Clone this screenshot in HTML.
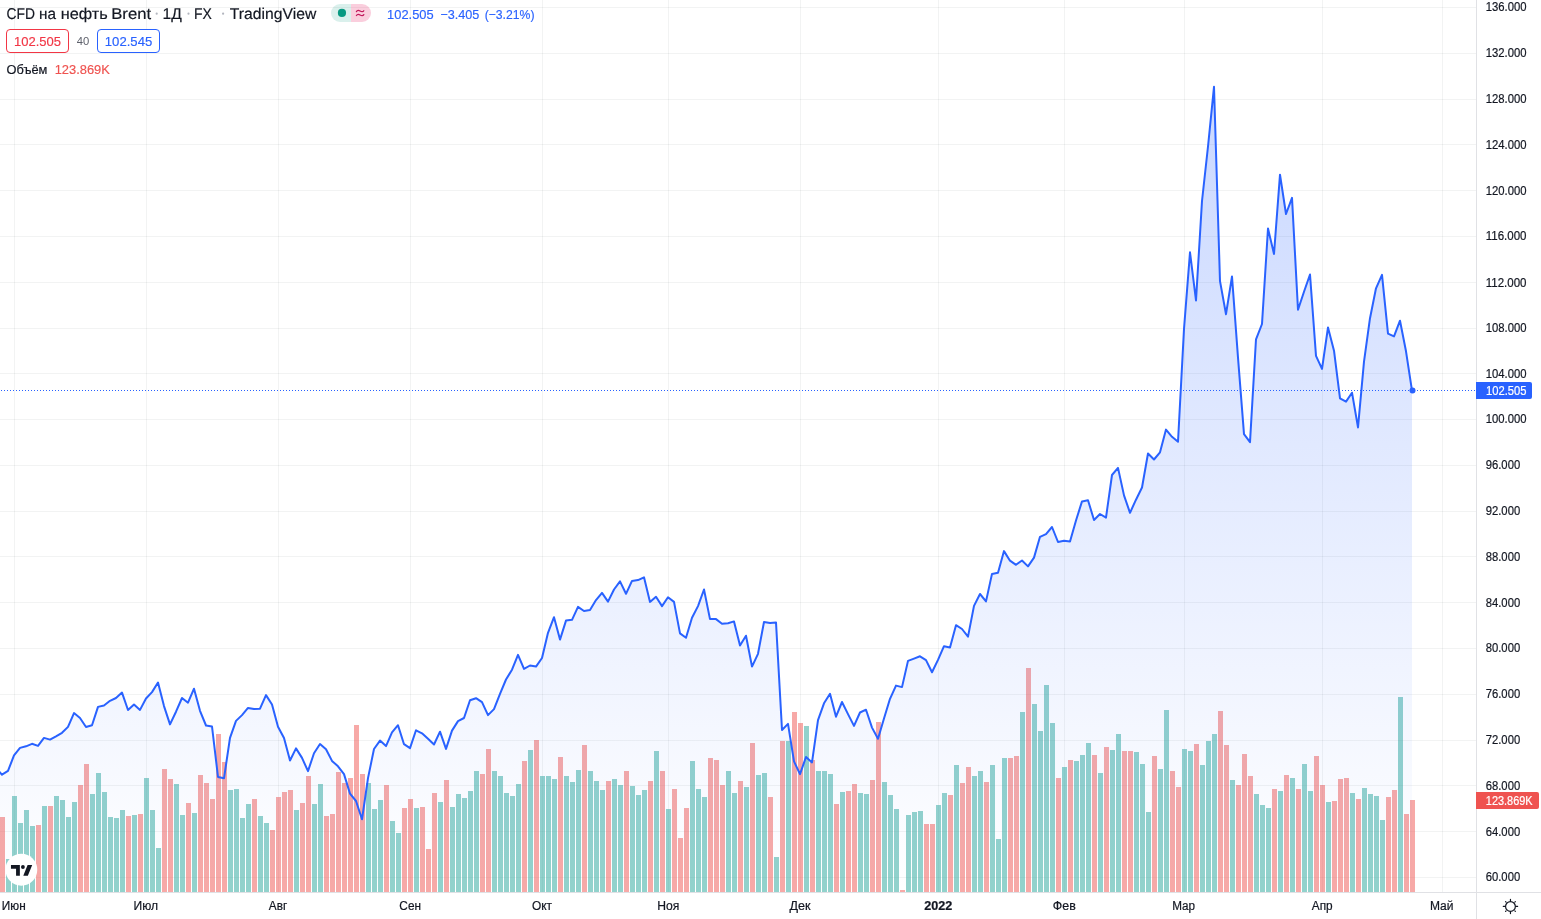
<!DOCTYPE html>
<html lang="ru"><head><meta charset="utf-8"><title>CFD на нефть Brent</title>
<style>
html,body{margin:0;padding:0;background:#fff;}
body{width:1541px;height:919px;overflow:hidden;font-family:"Liberation Sans",sans-serif;}
svg{display:block;position:absolute;left:0;top:0;will-change:transform;}
text{font-family:"Liberation Sans",sans-serif;}
.ax{font-size:12px;fill:#131722;stroke:#131722;stroke-width:0.2px;}
.g{fill:rgba(38,166,154,0.5);}.r{fill:rgba(239,83,80,0.5);}
</style></head><body>
<svg width="1541" height="919" viewBox="0 0 1541 919">
<defs><linearGradient id="ar" x1="0" y1="0" x2="0" y2="892" gradientUnits="userSpaceOnUse"><stop offset="0" stop-color="#2962ff" stop-opacity="0.28"/><stop offset="1" stop-color="#2962ff" stop-opacity="0"/></linearGradient>
<clipPath id="pane"><rect x="0" y="0" width="1476" height="892"/></clipPath></defs>
<rect width="1541" height="919" fill="#fff"/>
<g fill="rgba(42,46,57,0.06)" shape-rendering="crispEdges">
<rect x="14" y="0" width="1" height="892"/>
<rect x="146" y="0" width="1" height="892"/>
<rect x="278" y="0" width="1" height="892"/>
<rect x="410" y="0" width="1" height="892"/>
<rect x="542" y="0" width="1" height="892"/>
<rect x="668" y="0" width="1" height="892"/>
<rect x="800" y="0" width="1" height="892"/>
<rect x="938" y="0" width="1" height="892"/>
<rect x="1064" y="0" width="1" height="892"/>
<rect x="1184" y="0" width="1" height="892"/>
<rect x="1322" y="0" width="1" height="892"/>
<rect x="1442" y="0" width="1" height="892"/>
<rect x="0" y="7" width="1476" height="1"/>
<rect x="0" y="53" width="1476" height="1"/>
<rect x="0" y="99" width="1476" height="1"/>
<rect x="0" y="144" width="1476" height="1"/>
<rect x="0" y="190" width="1476" height="1"/>
<rect x="0" y="236" width="1476" height="1"/>
<rect x="0" y="282" width="1476" height="1"/>
<rect x="0" y="328" width="1476" height="1"/>
<rect x="0" y="373" width="1476" height="1"/>
<rect x="0" y="419" width="1476" height="1"/>
<rect x="0" y="465" width="1476" height="1"/>
<rect x="0" y="511" width="1476" height="1"/>
<rect x="0" y="556" width="1476" height="1"/>
<rect x="0" y="602" width="1476" height="1"/>
<rect x="0" y="648" width="1476" height="1"/>
<rect x="0" y="694" width="1476" height="1"/>
<rect x="0" y="740" width="1476" height="1"/>
<rect x="0" y="785" width="1476" height="1"/>
<rect x="0" y="831" width="1476" height="1"/>
<rect x="0" y="877" width="1476" height="1"/>
</g>
<g clip-path="url(#pane)" shape-rendering="crispEdges">
<rect class="r" x="0" y="817" width="5" height="75"/>
<rect class="g" x="6" y="859" width="5" height="33"/>
<rect class="g" x="12" y="796" width="5" height="96"/>
<rect class="g" x="18" y="823" width="5" height="69"/>
<rect class="g" x="24" y="810" width="5" height="82"/>
<rect class="g" x="30" y="826" width="5" height="66"/>
<rect class="r" x="36" y="825" width="5" height="67"/>
<rect class="g" x="42" y="806" width="5" height="86"/>
<rect class="r" x="48" y="806" width="5" height="86"/>
<rect class="g" x="54" y="796" width="5" height="96"/>
<rect class="g" x="60" y="800" width="5" height="92"/>
<rect class="g" x="66" y="817" width="5" height="75"/>
<rect class="g" x="72" y="802" width="5" height="90"/>
<rect class="r" x="78" y="785" width="5" height="107"/>
<rect class="r" x="84" y="764" width="5" height="128"/>
<rect class="g" x="90" y="794" width="5" height="98"/>
<rect class="g" x="96" y="773" width="5" height="119"/>
<rect class="g" x="102" y="792" width="5" height="100"/>
<rect class="g" x="108" y="817" width="5" height="75"/>
<rect class="g" x="114" y="818" width="5" height="74"/>
<rect class="g" x="120" y="810" width="5" height="82"/>
<rect class="r" x="126" y="816" width="5" height="76"/>
<rect class="g" x="132" y="815" width="5" height="77"/>
<rect class="r" x="138" y="814" width="5" height="78"/>
<rect class="g" x="144" y="778" width="5" height="114"/>
<rect class="g" x="150" y="810" width="5" height="82"/>
<rect class="g" x="156" y="848" width="5" height="44"/>
<rect class="r" x="162" y="769" width="5" height="123"/>
<rect class="r" x="168" y="779" width="5" height="113"/>
<rect class="g" x="174" y="784" width="5" height="108"/>
<rect class="g" x="180" y="815" width="5" height="77"/>
<rect class="r" x="186" y="803" width="5" height="89"/>
<rect class="g" x="192" y="813" width="5" height="79"/>
<rect class="r" x="198" y="775" width="5" height="117"/>
<rect class="r" x="204" y="783" width="5" height="109"/>
<rect class="r" x="210" y="799" width="5" height="93"/>
<rect class="r" x="216" y="734" width="5" height="158"/>
<rect class="r" x="222" y="762" width="5" height="130"/>
<rect class="g" x="228" y="790" width="5" height="102"/>
<rect class="g" x="234" y="789" width="5" height="103"/>
<rect class="g" x="240" y="818" width="5" height="74"/>
<rect class="g" x="246" y="804" width="5" height="88"/>
<rect class="r" x="252" y="799" width="5" height="93"/>
<rect class="g" x="258" y="816" width="5" height="76"/>
<rect class="g" x="264" y="823" width="5" height="69"/>
<rect class="r" x="270" y="830" width="5" height="62"/>
<rect class="r" x="276" y="797" width="5" height="95"/>
<rect class="r" x="282" y="792" width="5" height="100"/>
<rect class="r" x="288" y="790" width="5" height="102"/>
<rect class="g" x="294" y="810" width="5" height="82"/>
<rect class="r" x="300" y="803" width="5" height="89"/>
<rect class="r" x="306" y="776" width="5" height="116"/>
<rect class="g" x="312" y="804" width="5" height="88"/>
<rect class="g" x="318" y="784" width="5" height="108"/>
<rect class="r" x="324" y="816" width="5" height="76"/>
<rect class="r" x="330" y="814" width="5" height="78"/>
<rect class="r" x="336" y="772" width="5" height="120"/>
<rect class="r" x="342" y="783" width="5" height="109"/>
<rect class="r" x="348" y="778" width="5" height="114"/>
<rect class="r" x="354" y="725" width="5" height="167"/>
<rect class="r" x="360" y="774" width="5" height="118"/>
<rect class="g" x="366" y="783" width="5" height="109"/>
<rect class="g" x="372" y="809" width="5" height="83"/>
<rect class="g" x="378" y="800" width="5" height="92"/>
<rect class="r" x="384" y="785" width="5" height="107"/>
<rect class="g" x="390" y="821" width="5" height="71"/>
<rect class="g" x="396" y="833" width="5" height="59"/>
<rect class="r" x="402" y="808" width="5" height="84"/>
<rect class="r" x="408" y="799" width="5" height="93"/>
<rect class="g" x="414" y="808" width="5" height="84"/>
<rect class="r" x="420" y="807" width="5" height="85"/>
<rect class="r" x="426" y="849" width="5" height="43"/>
<rect class="r" x="432" y="793" width="5" height="99"/>
<rect class="g" x="438" y="802" width="5" height="90"/>
<rect class="r" x="444" y="780" width="5" height="112"/>
<rect class="g" x="450" y="807" width="5" height="85"/>
<rect class="g" x="456" y="794" width="5" height="98"/>
<rect class="g" x="462" y="798" width="5" height="94"/>
<rect class="g" x="468" y="791" width="5" height="101"/>
<rect class="g" x="474" y="771" width="5" height="121"/>
<rect class="r" x="480" y="774" width="5" height="118"/>
<rect class="r" x="486" y="749" width="5" height="143"/>
<rect class="g" x="492" y="771" width="5" height="121"/>
<rect class="g" x="498" y="776" width="5" height="116"/>
<rect class="g" x="504" y="793" width="5" height="99"/>
<rect class="g" x="510" y="796" width="5" height="96"/>
<rect class="g" x="516" y="784" width="5" height="108"/>
<rect class="r" x="522" y="761" width="5" height="131"/>
<rect class="g" x="528" y="750" width="5" height="142"/>
<rect class="r" x="534" y="740" width="5" height="152"/>
<rect class="g" x="540" y="776" width="5" height="116"/>
<rect class="g" x="546" y="776" width="5" height="116"/>
<rect class="g" x="552" y="779" width="5" height="113"/>
<rect class="r" x="558" y="757" width="5" height="135"/>
<rect class="g" x="564" y="776" width="5" height="116"/>
<rect class="g" x="570" y="782" width="5" height="110"/>
<rect class="g" x="576" y="770" width="5" height="122"/>
<rect class="r" x="582" y="745" width="5" height="147"/>
<rect class="g" x="588" y="771" width="5" height="121"/>
<rect class="g" x="594" y="781" width="5" height="111"/>
<rect class="g" x="600" y="790" width="5" height="102"/>
<rect class="r" x="606" y="781" width="5" height="111"/>
<rect class="g" x="612" y="779" width="5" height="113"/>
<rect class="g" x="618" y="785" width="5" height="107"/>
<rect class="r" x="624" y="771" width="5" height="121"/>
<rect class="g" x="630" y="786" width="5" height="106"/>
<rect class="g" x="636" y="795" width="5" height="97"/>
<rect class="g" x="642" y="790" width="5" height="102"/>
<rect class="r" x="648" y="781" width="5" height="111"/>
<rect class="g" x="654" y="751" width="5" height="141"/>
<rect class="r" x="660" y="771" width="5" height="121"/>
<rect class="g" x="666" y="809" width="5" height="83"/>
<rect class="r" x="672" y="789" width="5" height="103"/>
<rect class="r" x="678" y="838" width="5" height="54"/>
<rect class="r" x="684" y="808" width="5" height="84"/>
<rect class="g" x="690" y="761" width="5" height="131"/>
<rect class="g" x="696" y="789" width="5" height="103"/>
<rect class="g" x="702" y="797" width="5" height="95"/>
<rect class="r" x="708" y="758" width="5" height="134"/>
<rect class="r" x="714" y="760" width="5" height="132"/>
<rect class="r" x="720" y="785" width="5" height="107"/>
<rect class="g" x="726" y="771" width="5" height="121"/>
<rect class="g" x="732" y="793" width="5" height="99"/>
<rect class="r" x="738" y="781" width="5" height="111"/>
<rect class="g" x="744" y="787" width="5" height="105"/>
<rect class="r" x="750" y="743" width="5" height="149"/>
<rect class="g" x="756" y="775" width="5" height="117"/>
<rect class="g" x="762" y="773" width="5" height="119"/>
<rect class="r" x="768" y="797" width="5" height="95"/>
<rect class="g" x="774" y="857" width="5" height="35"/>
<rect class="r" x="780" y="741" width="5" height="151"/>
<rect class="g" x="786" y="741" width="5" height="151"/>
<rect class="r" x="792" y="712" width="5" height="180"/>
<rect class="r" x="798" y="723" width="5" height="169"/>
<rect class="g" x="804" y="726" width="5" height="166"/>
<rect class="r" x="810" y="760" width="5" height="132"/>
<rect class="g" x="816" y="771" width="5" height="121"/>
<rect class="g" x="822" y="771" width="5" height="121"/>
<rect class="g" x="828" y="774" width="5" height="118"/>
<rect class="r" x="834" y="804" width="5" height="88"/>
<rect class="g" x="840" y="792" width="5" height="100"/>
<rect class="r" x="846" y="791" width="5" height="101"/>
<rect class="r" x="852" y="784" width="5" height="108"/>
<rect class="g" x="858" y="793" width="5" height="99"/>
<rect class="g" x="864" y="794" width="5" height="98"/>
<rect class="r" x="870" y="780" width="5" height="112"/>
<rect class="r" x="876" y="722" width="5" height="170"/>
<rect class="g" x="882" y="782" width="5" height="110"/>
<rect class="g" x="888" y="795" width="5" height="97"/>
<rect class="g" x="894" y="809" width="5" height="83"/>
<rect class="r" x="900" y="890" width="5" height="2"/>
<rect class="g" x="906" y="815" width="5" height="77"/>
<rect class="g" x="912" y="812" width="5" height="80"/>
<rect class="g" x="918" y="811" width="5" height="81"/>
<rect class="r" x="924" y="824" width="5" height="68"/>
<rect class="r" x="930" y="824" width="5" height="68"/>
<rect class="g" x="936" y="805" width="5" height="87"/>
<rect class="g" x="942" y="793" width="5" height="99"/>
<rect class="r" x="948" y="795" width="5" height="97"/>
<rect class="g" x="954" y="765" width="5" height="127"/>
<rect class="r" x="960" y="783" width="5" height="109"/>
<rect class="r" x="966" y="767" width="5" height="125"/>
<rect class="g" x="972" y="776" width="5" height="116"/>
<rect class="g" x="978" y="771" width="5" height="121"/>
<rect class="r" x="984" y="782" width="5" height="110"/>
<rect class="g" x="990" y="765" width="5" height="127"/>
<rect class="g" x="996" y="839" width="5" height="53"/>
<rect class="g" x="1002" y="758" width="5" height="134"/>
<rect class="r" x="1008" y="758" width="5" height="134"/>
<rect class="r" x="1014" y="756" width="5" height="136"/>
<rect class="g" x="1020" y="712" width="5" height="180"/>
<rect class="r" x="1026" y="668" width="5" height="224"/>
<rect class="g" x="1032" y="704" width="5" height="188"/>
<rect class="g" x="1038" y="731" width="5" height="161"/>
<rect class="g" x="1044" y="685" width="5" height="207"/>
<rect class="g" x="1050" y="723" width="5" height="169"/>
<rect class="r" x="1056" y="778" width="5" height="114"/>
<rect class="g" x="1062" y="767" width="5" height="125"/>
<rect class="r" x="1068" y="760" width="5" height="132"/>
<rect class="g" x="1074" y="761" width="5" height="131"/>
<rect class="g" x="1080" y="755" width="5" height="137"/>
<rect class="g" x="1086" y="743" width="5" height="149"/>
<rect class="r" x="1092" y="755" width="5" height="137"/>
<rect class="g" x="1098" y="773" width="5" height="119"/>
<rect class="r" x="1104" y="747" width="5" height="145"/>
<rect class="g" x="1110" y="750" width="5" height="142"/>
<rect class="g" x="1116" y="734" width="5" height="158"/>
<rect class="r" x="1122" y="751" width="5" height="141"/>
<rect class="r" x="1128" y="751" width="5" height="141"/>
<rect class="g" x="1134" y="752" width="5" height="140"/>
<rect class="g" x="1140" y="764" width="5" height="128"/>
<rect class="g" x="1146" y="812" width="5" height="80"/>
<rect class="r" x="1152" y="756" width="5" height="136"/>
<rect class="g" x="1158" y="769" width="5" height="123"/>
<rect class="g" x="1164" y="710" width="5" height="182"/>
<rect class="r" x="1170" y="771" width="5" height="121"/>
<rect class="r" x="1176" y="787" width="5" height="105"/>
<rect class="g" x="1182" y="749" width="5" height="143"/>
<rect class="g" x="1188" y="751" width="5" height="141"/>
<rect class="r" x="1194" y="744" width="5" height="148"/>
<rect class="g" x="1200" y="765" width="5" height="127"/>
<rect class="g" x="1206" y="741" width="5" height="151"/>
<rect class="g" x="1212" y="734" width="5" height="158"/>
<rect class="r" x="1218" y="711" width="5" height="181"/>
<rect class="r" x="1224" y="745" width="5" height="147"/>
<rect class="g" x="1230" y="780" width="5" height="112"/>
<rect class="r" x="1236" y="785" width="5" height="107"/>
<rect class="r" x="1242" y="754" width="5" height="138"/>
<rect class="r" x="1248" y="776" width="5" height="116"/>
<rect class="g" x="1254" y="794" width="5" height="98"/>
<rect class="g" x="1260" y="805" width="5" height="87"/>
<rect class="g" x="1266" y="808" width="5" height="84"/>
<rect class="r" x="1272" y="789" width="5" height="103"/>
<rect class="g" x="1278" y="791" width="5" height="101"/>
<rect class="r" x="1284" y="775" width="5" height="117"/>
<rect class="g" x="1290" y="778" width="5" height="114"/>
<rect class="r" x="1296" y="789" width="5" height="103"/>
<rect class="g" x="1302" y="764" width="5" height="128"/>
<rect class="g" x="1308" y="791" width="5" height="101"/>
<rect class="r" x="1314" y="756" width="5" height="136"/>
<rect class="r" x="1320" y="785" width="5" height="107"/>
<rect class="g" x="1326" y="802" width="5" height="90"/>
<rect class="r" x="1332" y="801" width="5" height="91"/>
<rect class="r" x="1338" y="779" width="5" height="113"/>
<rect class="r" x="1344" y="778" width="5" height="114"/>
<rect class="g" x="1350" y="793" width="5" height="99"/>
<rect class="r" x="1356" y="799" width="5" height="93"/>
<rect class="g" x="1362" y="788" width="5" height="104"/>
<rect class="g" x="1368" y="794" width="5" height="98"/>
<rect class="g" x="1374" y="796" width="5" height="96"/>
<rect class="g" x="1380" y="820" width="5" height="72"/>
<rect class="r" x="1386" y="797" width="5" height="95"/>
<rect class="r" x="1392" y="790" width="5" height="102"/>
<rect class="g" x="1398" y="697" width="5" height="195"/>
<rect class="r" x="1404" y="814" width="5" height="78"/>
<rect class="r" x="1410" y="800" width="5" height="92"/>
</g>
<g clip-path="url(#pane)">
<path d="M-4 768.3 L2 774.7 L8 770.9 L14 755.4 L20 747.9 L26 746.3 L32 743.8 L38 745.9 L44 737.9 L50 739.6 L56 736.4 L62 732.8 L68 726.9 L74 713.1 L80 718 L86 727 L92 725.3 L98 706.9 L104 705.5 L110 700.8 L116 698 L122 692.6 L128 710 L134 704.6 L140 709.9 L146 698.5 L152 692.1 L158 682.5 L164 706.1 L170 724.4 L176 711.7 L182 698 L188 702.7 L194 688.7 L200 710.8 L206 725.5 L212 726.5 L218 777 L224 778.3 L230 737.9 L236 720.9 L242 715.1 L248 707.9 L254 709.1 L260 708.7 L266 695.1 L272 704.5 L278 726.7 L284 738 L290 760.5 L296 748.4 L302 757.9 L308 771.1 L314 753.2 L320 744 L326 749.3 L332 760.9 L338 766.3 L344 774.1 L350 793.6 L356 801 L362 819.3 L368 778.1 L374 749 L380 740.6 L386 746.1 L392 732.4 L398 725.2 L404 744.2 L410 748.1 L416 730.3 L422 733.3 L428 738.7 L434 744.5 L440 731.7 L446 748.9 L452 730.6 L458 721.1 L464 718 L470 700.3 L476 698.2 L482 702.2 L488 715.1 L494 709.1 L500 693.8 L506 679.5 L512 669.7 L518 654.9 L524 668.9 L530 665.5 L536 666.6 L542 658 L548 632.8 L554 617.2 L560 639.6 L566 620.6 L572 619.8 L578 606.9 L584 611 L590 610 L596 600.1 L602 592.9 L608 601.6 L614 589.5 L620 581.4 L626 593.8 L632 580.9 L638 580.1 L644 577.3 L650 601.9 L656 596.8 L662 606.1 L668 597.3 L674 601.9 L680 633.4 L686 637.8 L692 617.8 L698 606.1 L704 589.5 L710 619.1 L716 619.1 L722 623.7 L728 623.2 L734 621.4 L740 645.6 L746 635.7 L752 666.6 L758 653.8 L764 622 L770 623 L776 622.4 L782 730 L788 723.9 L794 761.4 L800 774.2 L806 757 L812 762.4 L818 720.1 L824 703.3 L830 693.8 L836 716.7 L842 702 L848 714.1 L854 725.9 L860 712.5 L866 709.7 L872 727.6 L878 738.8 L884 718.5 L890 698.8 L896 685.6 L902 687.1 L908 660.9 L914 658.6 L920 656.3 L926 660.1 L932 672.3 L938 659.9 L944 646.2 L950 647.5 L956 625.2 L962 629 L968 636.6 L974 605.9 L980 594 L986 601.4 L992 573.9 L998 572.7 L1004 551.1 L1010 560.7 L1016 564.8 L1022 560.5 L1028 566.4 L1034 557.6 L1040 536.8 L1046 534.1 L1052 527 L1058 542 L1064 540.8 L1070 541.6 L1076 520.5 L1082 501.4 L1088 500.2 L1094 520 L1100 514 L1106 517.6 L1112 475 L1118 467.9 L1124 495.4 L1130 512.8 L1136 499.7 L1142 487.5 L1148 453.5 L1154 459.5 L1160 452.3 L1166 429.6 L1172 436.8 L1178 441.8 L1184 329 L1190 252.3 L1196 300.5 L1202 201 L1208 146.5 L1214 86.8 L1220 281.1 L1226 314.2 L1232 276.5 L1238 357.6 L1244 434.1 L1250 442.1 L1256 339.3 L1262 324 L1268 228.5 L1274 254 L1280 174.7 L1286 214 L1292 197.9 L1298 309.8 L1304 291.7 L1310 274.5 L1316 355.9 L1322 368.9 L1328 327.5 L1334 350.7 L1340 398.3 L1346 401.6 L1352 392.7 L1358 427.4 L1364 361.7 L1370 318.2 L1376 288.3 L1382 274.8 L1388 333.7 L1394 336.4 L1400 320.7 L1406 351.3 L1412 390.6 L1412 892 L-4 892 Z" fill="url(#ar)"/>
<path d="M-4 768.3 L2 774.7 L8 770.9 L14 755.4 L20 747.9 L26 746.3 L32 743.8 L38 745.9 L44 737.9 L50 739.6 L56 736.4 L62 732.8 L68 726.9 L74 713.1 L80 718 L86 727 L92 725.3 L98 706.9 L104 705.5 L110 700.8 L116 698 L122 692.6 L128 710 L134 704.6 L140 709.9 L146 698.5 L152 692.1 L158 682.5 L164 706.1 L170 724.4 L176 711.7 L182 698 L188 702.7 L194 688.7 L200 710.8 L206 725.5 L212 726.5 L218 777 L224 778.3 L230 737.9 L236 720.9 L242 715.1 L248 707.9 L254 709.1 L260 708.7 L266 695.1 L272 704.5 L278 726.7 L284 738 L290 760.5 L296 748.4 L302 757.9 L308 771.1 L314 753.2 L320 744 L326 749.3 L332 760.9 L338 766.3 L344 774.1 L350 793.6 L356 801 L362 819.3 L368 778.1 L374 749 L380 740.6 L386 746.1 L392 732.4 L398 725.2 L404 744.2 L410 748.1 L416 730.3 L422 733.3 L428 738.7 L434 744.5 L440 731.7 L446 748.9 L452 730.6 L458 721.1 L464 718 L470 700.3 L476 698.2 L482 702.2 L488 715.1 L494 709.1 L500 693.8 L506 679.5 L512 669.7 L518 654.9 L524 668.9 L530 665.5 L536 666.6 L542 658 L548 632.8 L554 617.2 L560 639.6 L566 620.6 L572 619.8 L578 606.9 L584 611 L590 610 L596 600.1 L602 592.9 L608 601.6 L614 589.5 L620 581.4 L626 593.8 L632 580.9 L638 580.1 L644 577.3 L650 601.9 L656 596.8 L662 606.1 L668 597.3 L674 601.9 L680 633.4 L686 637.8 L692 617.8 L698 606.1 L704 589.5 L710 619.1 L716 619.1 L722 623.7 L728 623.2 L734 621.4 L740 645.6 L746 635.7 L752 666.6 L758 653.8 L764 622 L770 623 L776 622.4 L782 730 L788 723.9 L794 761.4 L800 774.2 L806 757 L812 762.4 L818 720.1 L824 703.3 L830 693.8 L836 716.7 L842 702 L848 714.1 L854 725.9 L860 712.5 L866 709.7 L872 727.6 L878 738.8 L884 718.5 L890 698.8 L896 685.6 L902 687.1 L908 660.9 L914 658.6 L920 656.3 L926 660.1 L932 672.3 L938 659.9 L944 646.2 L950 647.5 L956 625.2 L962 629 L968 636.6 L974 605.9 L980 594 L986 601.4 L992 573.9 L998 572.7 L1004 551.1 L1010 560.7 L1016 564.8 L1022 560.5 L1028 566.4 L1034 557.6 L1040 536.8 L1046 534.1 L1052 527 L1058 542 L1064 540.8 L1070 541.6 L1076 520.5 L1082 501.4 L1088 500.2 L1094 520 L1100 514 L1106 517.6 L1112 475 L1118 467.9 L1124 495.4 L1130 512.8 L1136 499.7 L1142 487.5 L1148 453.5 L1154 459.5 L1160 452.3 L1166 429.6 L1172 436.8 L1178 441.8 L1184 329 L1190 252.3 L1196 300.5 L1202 201 L1208 146.5 L1214 86.8 L1220 281.1 L1226 314.2 L1232 276.5 L1238 357.6 L1244 434.1 L1250 442.1 L1256 339.3 L1262 324 L1268 228.5 L1274 254 L1280 174.7 L1286 214 L1292 197.9 L1298 309.8 L1304 291.7 L1310 274.5 L1316 355.9 L1322 368.9 L1328 327.5 L1334 350.7 L1340 398.3 L1346 401.6 L1352 392.7 L1358 427.4 L1364 361.7 L1370 318.2 L1376 288.3 L1382 274.8 L1388 333.7 L1394 336.4 L1400 320.7 L1406 351.3 L1412 390.6" fill="none" stroke="#2962ff" stroke-width="2" stroke-linejoin="round" stroke-linecap="round"/>
</g>
<g fill="#2962ff" shape-rendering="crispEdges">
<path d="M1 390.5 H1476" stroke="#2962ff" stroke-width="1" stroke-dasharray="1 2" fill="none"/>
</g>
<circle cx="1412.5" cy="390.5" r="3" fill="#2962ff"/>
<g fill="#e0e1e5" shape-rendering="crispEdges"><rect x="1476" y="0" width="1" height="919"/><rect x="0" y="892" width="1541" height="1"/></g>
<text class="ax" x="1485.71" y="11" textLength="40.84" lengthAdjust="spacingAndGlyphs">136.000</text>
<text class="ax" x="1485.71" y="57" textLength="40.84" lengthAdjust="spacingAndGlyphs">132.000</text>
<text class="ax" x="1485.71" y="103" textLength="40.84" lengthAdjust="spacingAndGlyphs">128.000</text>
<text class="ax" x="1485.71" y="149" textLength="40.84" lengthAdjust="spacingAndGlyphs">124.000</text>
<text class="ax" x="1485.71" y="195" textLength="40.84" lengthAdjust="spacingAndGlyphs">120.000</text>
<text class="ax" x="1485.71" y="240" textLength="40.84" lengthAdjust="spacingAndGlyphs">116.000</text>
<text class="ax" x="1485.71" y="287" textLength="40.84" lengthAdjust="spacingAndGlyphs">112.000</text>
<text class="ax" x="1485.71" y="332" textLength="40.84" lengthAdjust="spacingAndGlyphs">108.000</text>
<text class="ax" x="1485.71" y="378" textLength="40.84" lengthAdjust="spacingAndGlyphs">104.000</text>
<text class="ax" x="1485.71" y="423" textLength="40.84" lengthAdjust="spacingAndGlyphs">100.000</text>
<text class="ax" x="1485.71" y="469" textLength="34.46" lengthAdjust="spacingAndGlyphs">96.000</text>
<text class="ax" x="1485.71" y="515" textLength="34.46" lengthAdjust="spacingAndGlyphs">92.000</text>
<text class="ax" x="1485.71" y="561" textLength="34.46" lengthAdjust="spacingAndGlyphs">88.000</text>
<text class="ax" x="1485.71" y="607" textLength="34.46" lengthAdjust="spacingAndGlyphs">84.000</text>
<text class="ax" x="1485.71" y="652" textLength="34.46" lengthAdjust="spacingAndGlyphs">80.000</text>
<text class="ax" x="1485.71" y="698" textLength="34.46" lengthAdjust="spacingAndGlyphs">76.000</text>
<text class="ax" x="1485.71" y="744" textLength="34.46" lengthAdjust="spacingAndGlyphs">72.000</text>
<text class="ax" x="1485.71" y="790" textLength="34.46" lengthAdjust="spacingAndGlyphs">68.000</text>
<text class="ax" x="1485.71" y="836" textLength="34.46" lengthAdjust="spacingAndGlyphs">64.000</text>
<text class="ax" x="1485.71" y="881" textLength="34.46" lengthAdjust="spacingAndGlyphs">60.000</text>
<path d="M1476 382 H1530 a2 2 0 0 1 2 2 V397 a2 2 0 0 1 -2 2 H1476 Z" fill="#2962ff"/>
<text x="1485.99" y="395" font-size="12" fill="#fff" stroke="#fff" stroke-width="0.2" textLength="40.53" lengthAdjust="spacingAndGlyphs">102.505</text>
<path d="M1476 792 H1537 a2 2 0 0 1 2 2 V807 a2 2 0 0 1 -2 2 H1476 Z" fill="#ef5350"/>
<text x="1485.85" y="805" font-size="12" fill="#fff" stroke="#fff" stroke-width="0.2" textLength="46.8" lengthAdjust="spacingAndGlyphs">123.869K</text>
<text class="ax" x="1.84" y="910" stroke="#131722" stroke-width="0.25" textLength="23.84" lengthAdjust="spacingAndGlyphs">Июн</text>
<text class="ax" x="133.55" y="910" stroke="#131722" stroke-width="0.25" textLength="24.49" lengthAdjust="spacingAndGlyphs">Июл</text>
<text class="ax" x="268.82" y="910" stroke="#131722" stroke-width="0.25" textLength="18.37" lengthAdjust="spacingAndGlyphs">Авг</text>
<text class="ax" x="399.36" y="910" stroke="#131722" stroke-width="0.25" textLength="21.6" lengthAdjust="spacingAndGlyphs">Сен</text>
<text class="ax" x="531.98" y="910" stroke="#131722" stroke-width="0.25" textLength="20.05" lengthAdjust="spacingAndGlyphs">Окт</text>
<text class="ax" x="657.19" y="910" stroke="#131722" stroke-width="0.25" textLength="22.09" lengthAdjust="spacingAndGlyphs">Ноя</text>
<text class="ax" x="789.6" y="910" stroke="#131722" stroke-width="0.25" textLength="21.01" lengthAdjust="spacingAndGlyphs">Дек</text>
<text class="ax" x="924.32" y="910" font-weight="bold" textLength="28.09" lengthAdjust="spacingAndGlyphs">2022</text>
<text class="ax" x="1052.82" y="910" stroke="#131722" stroke-width="0.25" textLength="22.99" lengthAdjust="spacingAndGlyphs">Фев</text>
<text class="ax" x="1172.24" y="910" stroke="#131722" stroke-width="0.25" textLength="22.88" lengthAdjust="spacingAndGlyphs">Мар</text>
<text class="ax" x="1311.75" y="910" stroke="#131722" stroke-width="0.25" textLength="20.86" lengthAdjust="spacingAndGlyphs">Апр</text>
<text class="ax" x="1429.9" y="910" stroke="#131722" stroke-width="0.25" textLength="23.52" lengthAdjust="spacingAndGlyphs">Май</text>
<g transform="translate(1510.46 906.46)" fill="none" stroke="#131722" stroke-width="1.2" stroke-linecap="round">
<circle r="4.9"/>
<path d="M5.50 0.00 L7.15 0.00 M4.38 4.38 L4.88 4.88 M0.00 5.50 L0.00 7.15 M-4.38 4.38 L-4.88 4.88 M-5.50 0.00 L-7.15 0.00 M-4.38 -4.38 L-4.88 -4.88 M-0.00 -5.50 L-0.00 -7.15 M4.38 -4.38 L4.88 -4.88"/>
</g>
<circle cx="21.35" cy="869.75" r="15.9" fill="#fff"/>
<g fill="#131722"><path d="M10.96 865.07 H19.86 V875.8 H16.07 V868.7 H10.96 Z M27.6 865.07 H32.2 L27.85 875.8 H23.3 Z"/><circle cx="22.92" cy="867" r="1.9"/></g>
<text x="6.58" y="19.3" font-size="15.6" fill="#131722" stroke="#131722" stroke-width="0.18" text-rendering="geometricPrecision" textLength="28.49" lengthAdjust="spacingAndGlyphs">CFD</text>
<text x="39.09" y="19.3" font-size="15.6" fill="#131722" stroke="#131722" stroke-width="0.18" text-rendering="geometricPrecision" textLength="17.0" lengthAdjust="spacingAndGlyphs">на</text>
<text x="60.77" y="19.3" font-size="15.6" fill="#131722" stroke="#131722" stroke-width="0.18" text-rendering="geometricPrecision" textLength="47.01" lengthAdjust="spacingAndGlyphs">нефть</text>
<text x="111.18" y="19.3" font-size="15.6" fill="#131722" stroke="#131722" stroke-width="0.18" text-rendering="geometricPrecision" textLength="39.95" lengthAdjust="spacingAndGlyphs">Brent</text>
<text x="162.55" y="19.3" font-size="15.6" fill="#131722" stroke="#131722" stroke-width="0.18" text-rendering="geometricPrecision" textLength="19.27" lengthAdjust="spacingAndGlyphs">1Д</text>
<text x="194.11" y="19.3" font-size="15.6" fill="#131722" stroke="#131722" stroke-width="0.18" text-rendering="geometricPrecision" textLength="17.82" lengthAdjust="spacingAndGlyphs">FX</text>
<text x="229.81" y="19.3" font-size="15.6" fill="#131722" stroke="#131722" stroke-width="0.18" text-rendering="geometricPrecision" textLength="86.44" lengthAdjust="spacingAndGlyphs">TradingView</text>
<circle cx="156.7" cy="13.7" r="1.1" fill="#b2b5be"/>
<circle cx="188.5" cy="13.7" r="1.1" fill="#b2b5be"/>
<circle cx="223.1" cy="13.7" r="1.1" fill="#b2b5be"/>
<path d="M340 4 H351 V22 H340 a9 9 0 0 1 0 -18 Z" fill="#089981" fill-opacity="0.15"/>
<path d="M351 4 H362 a9 9 0 0 1 0 18 H351 Z" fill="#e91e63" fill-opacity="0.22"/>
<circle cx="341.95" cy="12.9" r="4.1" fill="#089981"/>
<path d="M356.4 11.6 C357.4 9.9 358.9 10.3 360.1 11.05 C361.3 11.8 363 12.2 363.8 10.7 M356.4 15.5 C357.4 13.8 358.9 14.2 360.1 14.95 C361.3 15.7 363 16.1 363.8 14.6" fill="none" stroke="#c2185b" stroke-width="1.25" stroke-linecap="round"/>
<text x="387.12" y="18.7" font-size="13" fill="#2962ff" stroke="#2962ff" stroke-width="0.15" textLength="46.49" lengthAdjust="spacingAndGlyphs">102.505</text>
<text x="440.41" y="18.7" font-size="13" fill="#2962ff" stroke="#2962ff" stroke-width="0.15" textLength="38.97" lengthAdjust="spacingAndGlyphs">−3.405</text>
<text x="484.64" y="18.7" font-size="13" fill="#2962ff" stroke="#2962ff" stroke-width="0.15" textLength="49.89" lengthAdjust="spacingAndGlyphs">(−3.21%)</text>
<rect x="6.5" y="29.5" width="62" height="23" rx="3.5" fill="#fff" stroke="#f23645"/>
<text x="14.0" y="46.0" font-size="12.6" fill="#f23645" stroke="#f23645" stroke-width="0.15" textLength="47.04" lengthAdjust="spacingAndGlyphs">102.505</text>
<text x="76.85" y="45" font-size="10.8" fill="#5d606b"  textLength="12.49" lengthAdjust="spacingAndGlyphs">40</text>
<rect x="97.5" y="29.5" width="62" height="23" rx="3.5" fill="#fff" stroke="#2962ff"/>
<text x="104.8" y="46.0" font-size="12.6" fill="#2962ff" stroke="#2962ff" stroke-width="0.15" textLength="47.44" lengthAdjust="spacingAndGlyphs">102.545</text>
<text x="6.57" y="74.2" font-size="12.6" fill="#131722" stroke="#131722" stroke-width="0.2" textLength="40.82" lengthAdjust="spacingAndGlyphs">Объём</text>
<text x="54.65" y="74.0" font-size="12.4" fill="#ef5350" stroke="#ef5350" stroke-width="0.15" textLength="55.23" lengthAdjust="spacingAndGlyphs">123.869K</text>
</svg></body></html>
